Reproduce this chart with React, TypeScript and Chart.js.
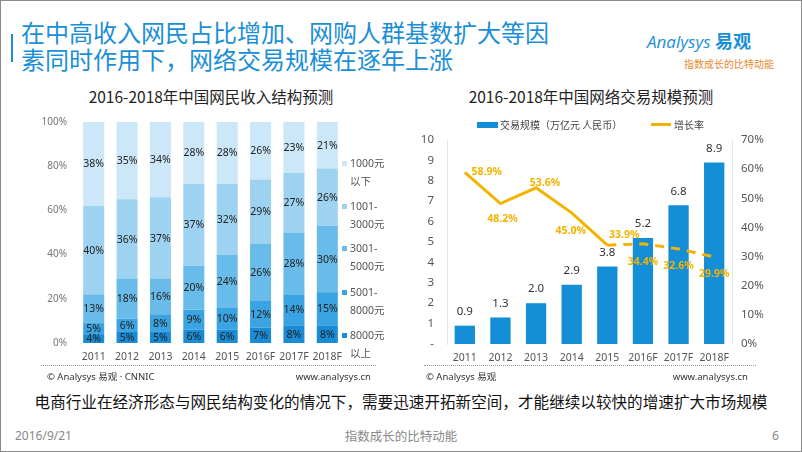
import React, { useEffect, useRef } from 'react';
import { Chart, registerables } from 'chart.js';

Chart.register(...registerables);

// ---------- data ----------
const years = ['2011', '2012', '2013', '2014', '2015', '2016F', '2017F', '2018F'];

// income structure (%), bottom to top
const incomeSeriesNames = ['8000元以上', '5001-8000元', '3001-5000元', '1001-3000元', '1000元以下'];
const incomeLegendLines = [
  ['8000元', '以上'],
  ['5001-', '8000元'],
  ['3001-', '5000元'],
  ['1001-', '3000元'],
  ['1000元', '以下'],
];
const incomeAbove8000 = [4, 5, 5, 6, 6, 7, 8, 8];
const income5001to8000 = [5, 6, 8, 9, 10, 12, 14, 15];
const income3001to5000 = [13, 18, 16, 20, 24, 26, 28, 30];
const income1001to3000 = [40, 36, 37, 37, 32, 29, 27, 26];
const incomeBelow1000 = [38, 35, 34, 28, 28, 26, 23, 21];

// online transaction
const tradeSeriesNames = ['交易规模（万亿元 人民币）', '增长率'];
const tradeScale = [0.9, 1.3, 2.0, 2.9, 3.8, 5.2, 6.8, 8.9];
const tradeGrowth = [58.9, 48.2, 53.6, 45.0, 33.9, 34.4, 32.6, 29.9];
const forecastStartIndex = 4; // dashed from 2015 on

// ---------- styles ----------
const FONT = "'Noto Sans', 'Noto Sans CJK SC', sans-serif";
const CJK = "'Noto Sans CJK SC', 'Noto Sans', sans-serif";
const BLUE = '#1b8fd6';
const GOLD = '#f2b400';
const incomeColors = ['#1a8cd6', '#3aa3e1', '#69bbea', '#9dd2f1', '#cbe7f8'];
const growthLabelOffsets: [number, number][] = [
  [22, 0], [2, 15], [9, -5], [-1, 18], [17, -10], [0, 18], [0, 17], [0, 17],
];

const stackLabels = {
  id: 'stackLabels',
  afterDatasetsDraw(chart: any) {
    const ctx = chart.ctx;
    ctx.save();
    ctx.font = '10.5px ' + FONT;
    ctx.fillStyle = '#222';
    ctx.textAlign = 'center';
    ctx.textBaseline = 'middle';
    chart.data.datasets.forEach((ds: any, i: number) => {
      const meta = chart.getDatasetMeta(i);
      meta.data.forEach((el: any, j: number) => {
        const p = el.getProps(['x', 'y', 'base'], true);
        ctx.fillText(ds.data[j] + '%', p.x, (p.y + p.base) / 2 + 0.5);
      });
    });
    ctx.restore();
  },
};

const tradeLabels = {
  id: 'tradeLabels',
  afterDatasetsDraw(chart: any) {
    const ctx = chart.ctx;
    ctx.save();
    ctx.textAlign = 'center';
    ctx.textBaseline = 'middle';
    const barMeta = chart.getDatasetMeta(0);
    ctx.font = '11.5px ' + FONT;
    ctx.fillStyle = '#333';
    barMeta.data.forEach((el: any, i: number) => {
      ctx.fillText(tradeScale[i].toFixed(1), el.x, el.y - 14);
    });
    const lineMeta = chart.getDatasetMeta(1);
    ctx.font = 'bold 10.5px ' + FONT;
    ctx.fillStyle = GOLD;
    lineMeta.data.forEach((el: any, i: number) => {
      const [dx, dy] = growthLabelOffsets[i];
      ctx.fillText(tradeGrowth[i].toFixed(1) + '%', el.x + dx, el.y + dy);
    });
    ctx.restore();
  },
};

function IncomeChart() {
  const ref = useRef<HTMLCanvasElement>(null);
  useEffect(() => {
    const seriesData = [incomeAbove8000, income5001to8000, income3001to5000, income1001to3000, incomeBelow1000];
    const chart = new Chart(ref.current!, {
      type: 'bar',
      data: {
        labels: years,
        datasets: seriesData.map((d, i) => ({
          label: incomeSeriesNames[i],
          data: d,
          backgroundColor: incomeColors[i],
          borderWidth: 0,
          barPercentage: 1,
          categoryPercentage: 0.63,
        })),
      },
      options: {
        responsive: false,
        animation: false,
        devicePixelRatio: 1,
        layout: { padding: { top: 10, right: 7, left: 0, bottom: 0 } },
        plugins: { legend: { display: false }, tooltip: { enabled: false } },
        scales: {
          x: {
            stacked: true,
            grid: { display: false, drawTicks: false },
            border: { display: false },
            ticks: {
              color: '#555', font: { size: 10.5, family: FONT }, padding: 8,
              maxRotation: 0, minRotation: 0, autoSkip: false,
            },
            afterFit: (s: any) => { s.height = 25; },
          },
          y: {
            stacked: true,
            min: 0,
            max: 100,
            grid: { display: false, drawTicks: false },
            border: { display: false },
            ticks: {
              stepSize: 20,
              color: '#777',
              font: { size: 10, family: FONT },
              padding: 10,
              callback: (v: any) => v + '%',
            },
            afterFit: (s: any) => { s.width = 46; },
          },
        },
      },
      plugins: [stackLabels],
    });
    return () => chart.destroy();
  }, []);
  return <canvas ref={ref} width={320} height={262} style={{ position: 'absolute', left: 30, top: 105 }} />;
}

function TradeChart() {
  const ref = useRef<HTMLCanvasElement>(null);
  useEffect(() => {
    const chart = new Chart(ref.current!, {
      type: 'bar',
      data: {
        labels: years,
        datasets: [
          {
            type: 'bar',
            label: tradeSeriesNames[0],
            data: tradeScale,
            backgroundColor: '#138ed7',
            borderWidth: 0,
            barPercentage: 1,
            categoryPercentage: 0.57,
            yAxisID: 'y',
            order: 2,
          } as any,
          {
            type: 'line',
            label: tradeSeriesNames[1],
            data: tradeGrowth,
            borderColor: GOLD,
            borderWidth: 3,
            pointRadius: 0,
            tension: 0,
            yAxisID: 'y1',
            order: 1,
            segment: {
              borderDash: (c: any) => (c.p0DataIndex >= forecastStartIndex ? [9, 7] : undefined),
            },
          } as any,
        ],
      },
      options: {
        responsive: false,
        animation: false,
        devicePixelRatio: 1,
        layout: { padding: { top: 29, right: 0, left: 0, bottom: 0 } },
        plugins: { legend: { display: false }, tooltip: { enabled: false } },
        scales: {
          x: {
            grid: { display: false, drawTicks: false },
            border: { display: false },
            ticks: {
              color: '#555', font: { size: 10.5, family: FONT }, padding: 8,
              maxRotation: 0, minRotation: 0, autoSkip: false,
            },
            afterFit: (s: any) => { s.height = 24; },
          },
          y: {
            position: 'left',
            min: 0,
            max: 10,
            grid: { display: false, drawTicks: false },
            border: { display: true, color: '#e6e6e6' },
            ticks: {
              stepSize: 1,
              color: '#555',
              font: { size: 11.5, family: FONT },
              padding: 13,
              callback: (v: any) => (v === 0 ? '-' : v),
            },
            afterFit: (s: any) => { s.width = 41; },
          },
          y1: {
            position: 'right',
            min: 0,
            max: 70,
            grid: { display: false, drawTicks: false },
            border: { display: true, color: '#e6e6e6' },
            ticks: {
              stepSize: 10,
              color: '#555',
              font: { size: 11.5, family: FONT },
              padding: 9,
              callback: (v: any) => v + '%',
            },
            afterFit: (s: any) => { s.width = 59; },
          },
        },
      },
      plugins: [tradeLabels],
    });
    return () => chart.destroy();
  }, []);
  return <canvas ref={ref} width={385} height={257} style={{ position: 'absolute', left: 405, top: 110 }} />;
}

const abs = (o: React.CSSProperties): React.CSSProperties => ({ position: 'absolute', whiteSpace: 'nowrap', ...o });

export default function App() {
  const legendTop = [162, 205, 247, 291, 334];
  return (
    <div
      style={{
        position: 'fixed', left: 0, top: 0, width: 802, height: 452, background: '#fff',
        border: '1px solid #8c8c8c', boxSizing: 'border-box', overflow: 'hidden', fontFamily: CJK,
      }}
    >
      {/* header */}
      <div style={abs({ left: 10, top: 33, width: 2, height: 28, background: BLUE })} />
      <div style={abs({ left: 20, top: 17, fontSize: 24, lineHeight: '27px', color: BLUE })}>
        在中高收入网民占比增加、网购人群基数扩大等因<br />素同时作用下，网络交易规模在逐年上涨
      </div>
      <div style={abs({ left: 646, top: 28, fontSize: 17, lineHeight: '22px', color: BLUE, fontFamily: "'Open Sans', sans-serif", fontStyle: 'italic' })}>
        Analysys <span style={{ fontFamily: CJK, fontStyle: 'normal', fontWeight: 700, fontSize: 18 }}>易观</span>
      </div>
      <div style={abs({ left: 683, top: 56, fontSize: 10, lineHeight: '14px', color: '#e88a2e', letterSpacing: 0 })}>
        指数成长的比特动能
      </div>

      {/* left chart */}
      <div style={abs({ left: 60, width: 300, top: 85, textAlign: 'center', fontSize: 15.5, lineHeight: '20px', color: '#222' })}>
        2016-2018年中国网民收入结构预测
      </div>
      <IncomeChart />
      {incomeLegendLines.map((lines, i) => (
        <div key={i} style={abs({ left: 341, top: legendTop[4 - i] - 8, fontSize: 10.5, lineHeight: '17.5px', color: '#555', fontFamily: FONT })}>
          <span style={{ position: 'absolute', left: 0, top: 6, width: 5, height: 5, background: incomeColors[i] }} />
          <div style={{ paddingLeft: 8 }}>{lines[0]}</div>
          <div style={{ paddingLeft: 8 }}>{lines[1]}</div>
        </div>
      ))}
      <div style={abs({ left: 40, width: 335, top: 364, borderTop: '1px dotted #999' })} />
      <div style={abs({ left: 46, top: 369, fontSize: 9.5, lineHeight: '13px', color: '#333', fontFamily: FONT })}>© Analysys 易观 · CNNIC</div>
      <div style={abs({ left: 270, width: 100, top: 369, textAlign: 'right', fontSize: 9.5, lineHeight: '13px', color: '#333', fontFamily: FONT })}>www.analysys.cn</div>

      {/* right chart */}
      <div style={abs({ left: 440, width: 300, top: 85, textAlign: 'center', fontSize: 15.5, lineHeight: '20px', color: '#222' })}>
        2016-2018年中国网络交易规模预测
      </div>
      <div style={abs({ left: 476, top: 121, width: 21, height: 6, background: '#138ed7' })} />
      <div style={abs({ left: 499, top: 117, fontSize: 10, lineHeight: '14px', color: '#444' })}>{tradeSeriesNames[0]}</div>
      <div style={abs({ left: 650, top: 122, width: 20, height: 3, background: GOLD })} />
      <div style={abs({ left: 673, top: 117, fontSize: 10, lineHeight: '14px', color: '#444' })}>{tradeSeriesNames[1]}</div>
      <TradeChart />
      <div style={abs({ left: 423, width: 332, top: 364, borderTop: '1px dotted #999' })} />
      <div style={abs({ left: 425, top: 369, fontSize: 9.5, lineHeight: '13px', color: '#333', fontFamily: FONT })}>© Analysys 易观</div>
      <div style={abs({ left: 647, width: 100, top: 369, textAlign: 'right', fontSize: 9.5, lineHeight: '13px', color: '#333', fontFamily: FONT })}>www.analysys.cn</div>

      {/* bottom */}
      <div style={abs({ left: 0, width: 800, top: 389, textAlign: 'center', fontSize: 15.6, lineHeight: '22px', color: '#111' })}>
        电商行业在经济形态与网民结构变化的情况下，需要迅速开拓新空间，才能继续以较快的增速扩大市场规模
      </div>
      <div style={abs({ left: 14, top: 427, fontSize: 12, lineHeight: '16px', color: '#888', fontFamily: FONT })}>2016/9/21</div>
      <div style={abs({ left: 300, width: 200, top: 427, textAlign: 'center', fontSize: 12.5, lineHeight: '16px', color: '#888' })}>指数成长的比特动能</div>
      <div style={abs({ left: 771, top: 427, fontSize: 12, lineHeight: '16px', color: '#888', fontFamily: FONT })}>6</div>
    </div>
  );
}
